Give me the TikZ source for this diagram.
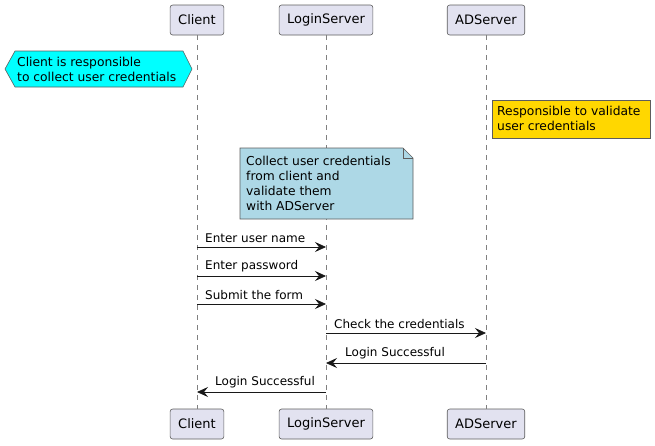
\documentclass[tikz,border=0pt]{standalone}
\usepackage{fontspec}
\setmainfont{DejaVu Sans}
\usetikzlibrary{arrows.meta,positioning}
\definecolor{partfill}{HTML}{E2E2F0}
\definecolor{linegray}{HTML}{181818}
\definecolor{notecyan}{HTML}{00FFFF}
\definecolor{notegold}{HTML}{FFD700}
\definecolor{noteblue}{HTML}{ADD8E6}
\begin{document}
\begin{tikzpicture}[x=1pt,y=-1pt,
  part/.style={draw=linegray!70,fill=partfill,rounded corners=2.5pt,minimum height=30pt,inner xsep=8pt,line width=0.6pt,font=\fontsize{13}{15}\selectfont},
  lifeline/.style={draw=linegray!55,line width=0.5pt,dash pattern=on 5pt off 5pt},
  notebox/.style={draw=linegray!70,line width=0.6pt},
  notetext/.style={anchor=north west,inner sep=0pt,align=left,font=\fontsize{12.3}{15}\selectfont},
  msg/.style={draw=linegray,line width=0.8pt,-{Stealth[length=11pt,width=10pt,inset=4pt]}},
  msglabel/.style={inner sep=0pt,font=\fontsize{12}{14}\selectfont}]
\useasboundingbox (0,0) rectangle (655,445);

%Participants and lifelines
\foreach \n/\x/\t in {cl/197/Client,ls/326/LoginServer,ad/486/ADServer}{
  \node [part] (\n top) at (\x,20) {\t};
  \node [part] (\n bot) at (\x,424) {\t};
  \draw [lifeline] (\n top) -- (\n bot);
}

%Notes
\draw [notebox,fill=notecyan] (5,69) -- (15,51) -- (183,51) -- (192,69) -- (183,87) -- (15,87) -- cycle;
\node [notetext] (clnote) at (17,57) {Client is responsible\\to collect user credentials};

\draw [notebox,fill=notegold] (492,100) rectangle (650,138);
\node [notetext] (adnote) at (497,106) {Responsible to validate\\user credentials};

\draw [notebox,fill=noteblue] (240,148) -- (403,148) -- (413,158) -- (413,219) -- (240,219) -- cycle;
\draw [notebox] (403,148) -- (403,158) -- (413,158);
\node [notetext] (lsnote) at (246,156) {Collect user credentials\\from client and\\validate them\\with ADServer};

%Messages
\foreach \i/\y in {1/247,2/276,3/304,4/333,5/363,6/392}
  \foreach \n/\x in {cl/197,ls/326,ad/486}
    \coordinate (\n\i) at (\x,\y);

\draw [msg] (cl1) -- (ls1);
\node [msglabel,above right=4pt and 8pt of cl1,anchor=south west] {Enter user name};
\draw [msg] (cl2) -- (ls2);
\node [msglabel,above right=4pt and 8pt of cl2,anchor=south west] {Enter password};
\draw [msg] (cl3) -- (ls3);
\node [msglabel,above right=4pt and 8pt of cl3,anchor=south west] {Submit the form};
\draw [msg] (ls4) -- (ad4);
\node [msglabel,above right=4pt and 8pt of ls4,anchor=south west] {Check the credentials};
\draw [msg] (ad5) -- (ls5);
\node [msglabel,above right=4pt and 19pt of ls5,anchor=south west] {Login Successful};
\draw [msg] (ls6) -- (cl6);
\node [msglabel,above right=4pt and 18pt of cl6,anchor=south west] {Login Successful};
\end{tikzpicture}
\end{document}
